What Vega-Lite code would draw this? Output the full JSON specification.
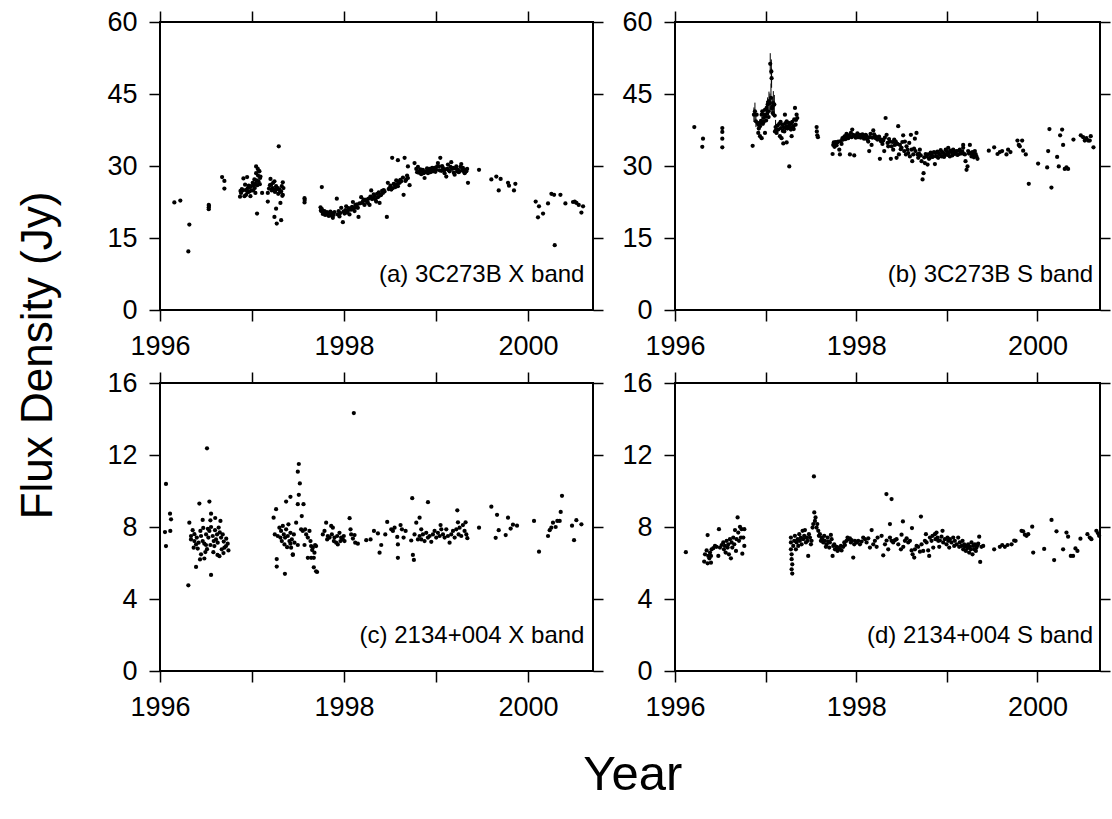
{
"$schema": "https://vega.github.io/schema/vega-lite/v6.json",
"background": "white",
"padding": {"left": 16, "top": 7, "right": 0, "bottom": 0},
"config": {
 "font": "Liberation Sans",
 "view": {"stroke": "#000", "strokeWidth": 2},
 "axis": {"domain": false, "grid": false, "tickColor": "#000", "tickWidth": 1.5, "tickSize": 11, "labelFont": "Liberation Sans", "labelFontSize": 27, "labelColor": "#000", "labelPadding": 12, "labelFlush": false, "labelOverlap": false, "title": null},
 "title": {"font": "Liberation Sans", "fontWeight": "normal", "color": "#000", "anchor": "middle"}
},
"datasets": {
"a": [
{"t":1996.156,"f":22.4},{"t":1996.221,"f":22.8},{"t":1996.319,"f":17.8},{"t":1996.308,"f":12.2},{"t":1996.530,"f":21.9},{"t":1996.530,"f":21.4},{"t":1996.530,"f":21.0},{"t":1996.532,"f":21.7},{"t":1996.675,"f":27.7},{"t":1996.700,"f":26.9},{"t":1996.700,"f":25.3},
{"t":1996.870,"f":23.6},{"t":1996.875,"f":24.8},{"t":1996.881,"f":24.4},{"t":1996.890,"f":25.2},{"t":1996.900,"f":24.9},{"t":1996.907,"f":27.4},{"t":1996.918,"f":23.7},{"t":1996.925,"f":26.1},{"t":1996.930,"f":25.0},{"t":1996.936,"f":24.0},{"t":1996.947,"f":27.7},{"t":1996.950,"f":24.6},{"t":1996.954,"f":25.4},{"t":1996.961,"f":24.6},{"t":1996.965,"f":25.9},{"t":1996.972,"f":24.7},{"t":1996.978,"f":25.6},{"t":1996.983,"f":23.7},{"t":1996.990,"f":25.8},{"t":1996.995,"f":24.9},{"t":1997.008,"f":26.5},{"t":1997.012,"f":24.9},{"t":1997.018,"f":25.9},{"t":1997.026,"f":27.2},{"t":1997.030,"f":25.4},{"t":1997.037,"f":24.4},{"t":1997.040,"f":26.3},{"t":1997.045,"f":28.5},{"t":1997.045,"f":29.9},{"t":1997.050,"f":27.0},{"t":1997.055,"f":20.1},{"t":1997.058,"f":26.0},{"t":1997.063,"f":29.4},{"t":1997.066,"f":28.0},{"t":1997.070,"f":26.8},{"t":1997.075,"f":29.0},{"t":1997.081,"f":28.9},{"t":1997.085,"f":26.2},{"t":1997.088,"f":27.5},{"t":1997.092,"f":27.8},{"t":1997.110,"f":24.4},{"t":1997.172,"f":24.4},{"t":1997.172,"f":22.6},{"t":1997.185,"f":25.3},{"t":1997.195,"f":26.0},{"t":1997.201,"f":27.3},{"t":1997.208,"f":26.1},{"t":1997.215,"f":24.9},{"t":1997.226,"f":25.4},{"t":1997.230,"f":26.5},{"t":1997.237,"f":25.1},{"t":1997.244,"f":26.8},{"t":1997.250,"f":24.6},{"t":1997.255,"f":24.9},{"t":1997.262,"f":25.8},{"t":1997.262,"f":21.1},{"t":1997.244,"f":19.4},{"t":1997.269,"f":18.0},{"t":1997.272,"f":25.2},{"t":1997.280,"f":25.4},{"t":1997.285,"f":24.2},{"t":1997.291,"f":34.1},{"t":1997.298,"f":25.1},{"t":1997.305,"f":24.6},{"t":1997.309,"f":22.3},{"t":1997.317,"f":18.7},{"t":1997.317,"f":24.7},{"t":1997.324,"f":25.8},{"t":1997.330,"f":23.8},{"t":1997.335,"f":26.6},{"t":1997.335,"f":24.0},{"t":1997.342,"f":25.4},
{"t":1997.571,"f":23.3},{"t":1997.571,"f":22.4},{"t":1997.573,"f":22.9},{"t":1997.759,"f":25.6},
{"t":1997.745,"f":21.4},{"t":1997.750,"f":20.8},{"t":1997.752,"f":20.6},{"t":1997.760,"f":21.0},{"t":1997.770,"f":20.0},{"t":1997.775,"f":20.5},{"t":1997.788,"f":20.6},{"t":1997.795,"f":19.8},{"t":1997.806,"f":19.9},{"t":1997.815,"f":20.4},{"t":1997.824,"f":20.2},{"t":1997.835,"f":19.6},{"t":1997.843,"f":20.0},{"t":1997.852,"f":20.5},{"t":1997.861,"f":19.7},{"t":1997.870,"f":20.2},{"t":1997.879,"f":19.2},{"t":1997.888,"f":19.8},{"t":1997.897,"f":20.4},{"t":1997.922,"f":23.2},{"t":1997.933,"f":19.9},{"t":1997.942,"f":20.6},{"t":1997.951,"f":19.5},{"t":1997.960,"f":20.2},{"t":1997.970,"f":21.3},{"t":1997.988,"f":18.3},{"t":1997.995,"f":20.5},{"t":1998.006,"f":20.1},{"t":1998.015,"f":20.8},{"t":1998.024,"f":21.6},{"t":1998.033,"f":20.3},{"t":1998.042,"f":20.6},{"t":1998.051,"f":21.2},{"t":1998.060,"f":19.9},{"t":1998.069,"f":21.0},{"t":1998.078,"f":20.9},{"t":1998.088,"f":21.5},{"t":1998.097,"f":22.5},{"t":1998.106,"f":21.2},{"t":1998.115,"f":20.6},{"t":1998.124,"f":21.9},{"t":1998.133,"f":21.4},{"t":1998.142,"f":22.0},{"t":1998.151,"f":21.3},{"t":1998.158,"f":19.4},{"t":1998.170,"f":22.2},{"t":1998.187,"f":23.5},{"t":1998.196,"f":22.3},{"t":1998.205,"f":22.6},{"t":1998.214,"f":23.0},{"t":1998.223,"f":21.9},{"t":1998.232,"f":22.8},{"t":1998.242,"f":23.0},{"t":1998.251,"f":22.6},{"t":1998.260,"f":22.3},{"t":1998.269,"f":23.2},{"t":1998.278,"f":21.9},{"t":1998.287,"f":23.6},{"t":1998.296,"f":24.9},{"t":1998.305,"f":23.1},{"t":1998.314,"f":23.3},{"t":1998.323,"f":24.1},{"t":1998.332,"f":23.7},{"t":1998.341,"f":23.0},{"t":1998.350,"f":22.6},{"t":1998.360,"f":24.2},{"t":1998.369,"f":23.5},{"t":1998.378,"f":24.5},{"t":1998.387,"f":22.3},{"t":1998.396,"f":23.9},{"t":1998.405,"f":24.0},{"t":1998.414,"f":24.8},{"t":1998.423,"f":24.4},{"t":1998.432,"f":25.0},{"t":1998.441,"f":24.7},{"t":1998.466,"f":19.4},{"t":1998.477,"f":26.5},{"t":1998.486,"f":25.2},{"t":1998.495,"f":25.4},{"t":1998.505,"f":25.9},{"t":1998.514,"f":25.1},{"t":1998.524,"f":31.7},{"t":1998.532,"f":25.4},{"t":1998.541,"f":26.3},{"t":1998.550,"f":26.1},{"t":1998.559,"f":25.6},{"t":1998.568,"f":27.0},{"t":1998.577,"f":26.2},{"t":1998.586,"f":25.8},{"t":1998.586,"f":31.2},{"t":1998.595,"f":26.8},{"t":1998.604,"f":26.5},{"t":1998.613,"f":27.1},{"t":1998.622,"f":26.8},{"t":1998.641,"f":27.6},{"t":1998.648,"f":24.0},{"t":1998.659,"f":31.7},{"t":1998.668,"f":26.9},{"t":1998.677,"f":27.2},{"t":1998.686,"f":28.0},{"t":1998.695,"f":27.5},{"t":1998.695,"f":29.9},{"t":1998.713,"f":26.0},{"t":1998.767,"f":30.6},
{"t":1998.786,"f":29.4},{"t":1998.795,"f":28.7},{"t":1998.804,"f":29.8},{"t":1998.813,"f":28.6},{"t":1998.822,"f":28.9},{"t":1998.831,"f":29.3},{"t":1998.840,"f":28.3},{"t":1998.849,"f":29.0},{"t":1998.858,"f":29.2},{"t":1998.867,"f":28.5},{"t":1998.876,"f":27.5},{"t":1998.885,"f":28.8},{"t":1998.894,"f":28.9},{"t":1998.903,"f":29.5},{"t":1998.913,"f":28.5},{"t":1998.922,"f":29.1},{"t":1998.931,"f":29.4},{"t":1998.940,"f":28.7},{"t":1998.949,"f":29.0},{"t":1998.958,"f":29.6},{"t":1998.967,"f":28.9},{"t":1998.976,"f":29.3},{"t":1998.985,"f":29.6},{"t":1998.994,"f":28.8},{"t":1999.003,"f":29.2},{"t":1999.012,"f":29.9},{"t":1999.021,"f":30.6},{"t":1999.032,"f":29.9},{"t":1999.040,"f":29.1},{"t":1999.047,"f":31.7},{"t":1999.058,"f":29.0},{"t":1999.067,"f":30.0},{"t":1999.076,"f":29.6},{"t":1999.085,"f":29.0},{"t":1999.094,"f":28.5},{"t":1999.103,"f":29.3},{"t":1999.112,"f":27.8},{"t":1999.123,"f":29.4},{"t":1999.130,"f":30.3},{"t":1999.139,"f":29.1},{"t":1999.148,"f":28.9},{"t":1999.157,"f":29.8},{"t":1999.166,"f":30.8},{"t":1999.175,"f":29.4},{"t":1999.185,"f":29.6},{"t":1999.194,"f":28.6},{"t":1999.203,"f":28.2},{"t":1999.212,"f":29.5},{"t":1999.221,"f":29.9},{"t":1999.230,"f":28.9},{"t":1999.239,"f":29.2},{"t":1999.248,"f":28.7},{"t":1999.257,"f":28.9},{"t":1999.266,"f":29.8},{"t":1999.275,"f":30.4},{"t":1999.284,"f":29.1},{"t":1999.293,"f":29.6},{"t":1999.302,"f":28.9},{"t":1999.312,"f":28.5},{"t":1999.321,"f":29.2},{"t":1999.330,"f":28.9},{"t":1999.339,"f":29.4},{"t":1999.348,"f":26.5},
{"t":1999.468,"f":29.2},{"t":1999.602,"f":27.2},{"t":1999.656,"f":27.8},{"t":1999.682,"f":24.9},{"t":1999.703,"f":27.3},{"t":1999.783,"f":26.5},{"t":1999.794,"f":25.9},{"t":1999.848,"f":24.9},{"t":1999.863,"f":26.3},{"t":2000.084,"f":22.6},{"t":2000.109,"f":19.3},{"t":2000.120,"f":21.6},{"t":2000.164,"f":20.1},{"t":2000.218,"f":22.2},{"t":2000.255,"f":24.2},{"t":2000.284,"f":24.0},{"t":2000.291,"f":13.5},{"t":2000.353,"f":24.0},{"t":2000.407,"f":22.2},{"t":2000.490,"f":22.5},{"t":2000.508,"f":22.6},{"t":2000.527,"f":22.3},{"t":2000.552,"f":21.9},{"t":2000.581,"f":20.3},{"t":2000.599,"f":21.6}
],
"b": [
{"t":1996.213,"f":38.1},{"t":1996.309,"f":35.7},{"t":1996.301,"f":34.0},{"t":1996.522,"f":37.9},{"t":1996.522,"f":37.1},{"t":1996.522,"f":35.7},{"t":1996.522,"f":33.9},{"t":1996.857,"f":34.2},
{"t":1996.871,"f":40.7,"lo":39.2,"hi":42.2},{"t":1996.882,"f":41.4,"lo":39.6,"hi":43.2},{"t":1996.893,"f":39.3,"lo":38.1,"hi":40.5},{"t":1996.901,"f":40.7},{"t":1996.912,"f":39.0},{"t":1996.919,"f":38.6},{"t":1996.919,"f":36.9},{"t":1996.925,"f":37.8},{"t":1996.938,"f":38.3},{"t":1996.938,"f":36.2},{"t":1996.945,"f":39.0},{"t":1996.949,"f":39.4},{"t":1996.956,"f":40.7},{"t":1996.956,"f":35.8},{"t":1996.963,"f":41.4},{"t":1996.970,"f":38.8},{"t":1996.974,"f":40.0},{"t":1996.980,"f":39.2},{"t":1996.985,"f":40.7},{"t":1996.993,"f":41.7},{"t":1996.993,"f":36.9},{"t":1997.000,"f":40.3},{"t":1997.005,"f":39.5},{"t":1997.011,"f":42.1,"lo":40.6,"hi":43.6},{"t":1997.018,"f":40.9},{"t":1997.022,"f":42.8,"lo":41.3,"hi":44.3},{"t":1997.029,"f":41.4},{"t":1997.033,"f":40.2},{"t":1997.037,"f":43.5,"lo":41.5,"hi":45.5},{"t":1997.048,"f":43.1,"lo":41.1,"hi":45.1},{"t":1997.051,"f":51.3,"lo":49.1,"hi":53.5},{"t":1997.059,"f":44.2,"lo":41.2,"hi":47.2},{"t":1997.063,"f":49.7,"lo":47.2,"hi":52.2},{"t":1997.066,"f":48.3,"lo":46.3,"hi":50.3},{"t":1997.070,"f":42.0},{"t":1997.074,"f":42.4,"lo":40.4,"hi":44.4},{"t":1997.080,"f":41.0},{"t":1997.085,"f":43.1,"lo":40.6,"hi":45.6},{"t":1997.096,"f":42.8,"lo":40.8,"hi":44.8},{"t":1997.100,"f":40.5},{"t":1997.103,"f":37.2},{"t":1997.110,"f":38.1,"lo":36.6,"hi":39.6},{"t":1997.115,"f":37.5},{"t":1997.121,"f":36.9},{"t":1997.130,"f":38.4},{"t":1997.140,"f":37.6},{"t":1997.150,"f":38.8},{"t":1997.158,"f":36.2},{"t":1997.165,"f":39.2},{"t":1997.169,"f":37.9},{"t":1997.176,"f":35.8},{"t":1997.184,"f":38.6},{"t":1997.190,"f":37.3},{"t":1997.195,"f":34.7},{"t":1997.200,"f":38.1},{"t":1997.206,"f":37.2},{"t":1997.213,"f":40.7},{"t":1997.217,"f":38.9},{"t":1997.221,"f":37.9},{"t":1997.228,"f":38.2},{"t":1997.232,"f":34.9},{"t":1997.232,"f":39.3},{"t":1997.240,"f":37.8},{"t":1997.250,"f":38.3},{"t":1997.255,"f":39.0},{"t":1997.261,"f":29.9},{"t":1997.268,"f":38.6},{"t":1997.272,"f":37.9},{"t":1997.279,"f":37.6},{"t":1997.283,"f":38.9},{"t":1997.287,"f":36.2},{"t":1997.294,"f":39.2},{"t":1997.300,"f":38.0},{"t":1997.305,"f":38.3},{"t":1997.310,"f":37.7},{"t":1997.316,"f":39.7},{"t":1997.324,"f":42.1},{"t":1997.331,"f":38.6},{"t":1997.335,"f":39.6},{"t":1997.342,"f":40.7},{"t":1997.349,"f":40.0},
{"t":1997.563,"f":38.1},{"t":1997.565,"f":37.2},{"t":1997.570,"f":36.4},{"t":1997.577,"f":36.0},
{"t":1997.739,"f":32.5},{"t":1997.746,"f":34.4},{"t":1997.752,"f":34.9},{"t":1997.760,"f":34.0},{"t":1997.765,"f":34.8},{"t":1997.772,"f":35.0},{"t":1997.783,"f":34.3},{"t":1997.790,"f":34.9},{"t":1997.801,"f":35.1},{"t":1997.813,"f":33.4},{"t":1997.820,"f":32.4},{"t":1997.830,"f":35.2},{"t":1997.838,"f":34.6},{"t":1997.848,"f":35.8},{"t":1997.857,"f":35.5},{"t":1997.866,"f":36.0},{"t":1997.875,"f":36.2},{"t":1997.884,"f":35.6},{"t":1997.893,"f":36.7},{"t":1997.902,"f":36.0},{"t":1997.912,"f":35.8},{"t":1997.920,"f":36.4},{"t":1997.930,"f":32.4},{"t":1997.941,"f":36.9},{"t":1997.950,"f":36.0},{"t":1997.956,"f":37.6},{"t":1997.967,"f":36.5},{"t":1997.978,"f":32.2},{"t":1997.985,"f":36.2},{"t":1997.995,"f":35.9},{"t":1998.004,"f":36.4},{"t":1998.013,"f":36.8},{"t":1998.022,"f":36.0},{"t":1998.031,"f":36.3},{"t":1998.040,"f":36.5},{"t":1998.050,"f":35.9},{"t":1998.059,"f":36.2},{"t":1998.068,"f":36.6},{"t":1998.077,"f":36.4},{"t":1998.086,"f":35.7},{"t":1998.096,"f":35.8},{"t":1998.105,"f":36.5},{"t":1998.114,"f":36.2},{"t":1998.123,"f":35.5},{"t":1998.132,"f":35.1},{"t":1998.143,"f":33.1},{"t":1998.150,"f":36.0},{"t":1998.158,"f":36.7},{"t":1998.169,"f":34.4},{"t":1998.178,"f":35.9},{"t":1998.188,"f":37.4},{"t":1998.197,"f":36.6},{"t":1998.206,"f":36.2},{"t":1998.215,"f":35.8},{"t":1998.224,"f":36.0},{"t":1998.233,"f":35.5},{"t":1998.243,"f":35.8},{"t":1998.252,"f":36.1},{"t":1998.261,"f":31.5},{"t":1998.270,"f":35.2},{"t":1998.279,"f":35.5},{"t":1998.289,"f":34.6},{"t":1998.298,"f":35.3},{"t":1998.309,"f":33.1},{"t":1998.316,"f":35.9},{"t":1998.324,"f":40.0},{"t":1998.335,"f":36.5},{"t":1998.346,"f":34.8},{"t":1998.353,"f":34.1},{"t":1998.362,"f":35.6},{"t":1998.371,"f":35.1},{"t":1998.382,"f":31.5},{"t":1998.390,"f":34.1},{"t":1998.399,"f":35.0},{"t":1998.408,"f":33.4},{"t":1998.419,"f":35.5},{"t":1998.426,"f":34.4},{"t":1998.436,"f":35.1},{"t":1998.445,"f":31.7},{"t":1998.454,"f":34.6},{"t":1998.463,"f":38.3},{"t":1998.471,"f":32.4},{"t":1998.482,"f":34.4},{"t":1998.491,"f":33.5},{"t":1998.500,"f":33.8},{"t":1998.509,"f":35.0},{"t":1998.518,"f":36.4},{"t":1998.529,"f":33.1},{"t":1998.537,"f":35.1},{"t":1998.548,"f":32.4},{"t":1998.555,"f":34.1},{"t":1998.566,"f":33.4},{"t":1998.574,"f":32.7},{"t":1998.585,"f":34.8},{"t":1998.592,"f":32.0},{"t":1998.603,"f":36.5},{"t":1998.610,"f":33.4},{"t":1998.618,"f":31.0},{"t":1998.629,"f":32.4},{"t":1998.638,"f":33.6},{"t":1998.647,"f":35.7},{"t":1998.654,"f":33.1},{"t":1998.665,"f":36.9},{"t":1998.676,"f":32.4},{"t":1998.684,"f":31.7},{"t":1998.693,"f":32.6},{"t":1998.702,"f":33.4},{"t":1998.712,"f":32.2},{"t":1998.721,"f":31.0},{"t":1998.732,"f":27.2},{"t":1998.743,"f":28.5},{"t":1998.750,"f":31.8},{"t":1998.757,"f":30.6},{"t":1998.766,"f":32.5},{"t":1998.776,"f":32.0},{"t":1998.787,"f":30.3},{"t":1998.794,"f":32.4},{"t":1998.803,"f":31.5},{"t":1998.813,"f":31.7},{"t":1998.822,"f":32.8},{"t":1998.831,"f":32.4},{"t":1998.840,"f":31.9},{"t":1998.849,"f":32.0},{"t":1998.858,"f":32.9},{"t":1998.868,"f":30.4},{"t":1998.875,"f":32.7},{"t":1998.886,"f":32.0},{"t":1998.895,"f":33.0},{"t":1998.904,"f":31.7},{"t":1998.913,"f":32.6},{"t":1998.923,"f":32.4},{"t":1998.932,"f":33.3},{"t":1998.941,"f":32.0},{"t":1998.950,"f":32.9},{"t":1998.960,"f":32.7},{"t":1998.969,"f":31.9},{"t":1998.978,"f":32.4},{"t":1998.987,"f":33.4},{"t":1998.996,"f":33.1},{"t":1999.005,"f":32.3},{"t":1999.015,"f":32.5},{"t":1999.015,"f":33.8},{"t":1999.024,"f":32.9},{"t":1999.033,"f":32.0},{"t":1999.042,"f":33.2},{"t":1999.051,"f":32.9},{"t":1999.060,"f":32.2},{"t":1999.070,"f":33.4},{"t":1999.079,"f":32.8},{"t":1999.088,"f":32.5},{"t":1999.097,"f":33.0},{"t":1999.107,"f":33.1},{"t":1999.116,"f":32.3},{"t":1999.125,"f":32.4},{"t":1999.134,"f":33.2},{"t":1999.143,"f":33.4},{"t":1999.152,"f":32.6},{"t":1999.162,"f":32.7},{"t":1999.171,"f":33.0},{"t":1999.180,"f":33.8},{"t":1999.180,"f":34.4},{"t":1999.189,"f":32.5},{"t":1999.199,"f":32.4},{"t":1999.206,"f":31.0},{"t":1999.217,"f":29.2},{"t":1999.228,"f":29.9},{"t":1999.235,"f":33.1},{"t":1999.244,"f":32.6},{"t":1999.254,"f":34.4},{"t":1999.265,"f":32.7},{"t":1999.272,"f":32.0},{"t":1999.281,"f":32.9},{"t":1999.290,"f":32.4},{"t":1999.299,"f":31.8},{"t":1999.309,"f":33.1},{"t":1999.318,"f":32.5},{"t":1999.327,"f":32.0},{"t":1999.338,"f":31.5},
{"t":1999.463,"f":33.2},{"t":1999.522,"f":33.9},{"t":1999.559,"f":32.5},{"t":1999.585,"f":32.9},{"t":1999.610,"f":33.1},{"t":1999.658,"f":32.4},{"t":1999.676,"f":33.4},{"t":1999.702,"f":32.9},{"t":1999.779,"f":35.3},{"t":1999.794,"f":34.4},{"t":1999.805,"f":34.1},{"t":1999.831,"f":35.3},{"t":1999.842,"f":33.2},{"t":1999.871,"f":32.4},{"t":1999.904,"f":26.3},{"t":2000.007,"f":30.5},{"t":2000.107,"f":29.7},{"t":2000.118,"f":33.1},{"t":2000.132,"f":37.7},{"t":2000.154,"f":25.5},{"t":2000.217,"f":31.9},{"t":2000.235,"f":29.9},{"t":2000.250,"f":36.4},{"t":2000.272,"f":37.6},{"t":2000.283,"f":34.4},{"t":2000.301,"f":29.4},{"t":2000.320,"f":29.7},{"t":2000.338,"f":29.4},{"t":2000.397,"f":35.5},{"t":2000.478,"f":36.4},{"t":2000.504,"f":36.0},{"t":2000.522,"f":35.3},{"t":2000.540,"f":35.8},{"t":2000.559,"f":35.3},{"t":2000.577,"f":35.3},{"t":2000.588,"f":36.2},{"t":2000.618,"f":33.9}
],
"c": [
{"t":1996.065,"f":10.39},{"t":1996.054,"f":7.72},{"t":1996.065,"f":6.94},{"t":1996.109,"f":8.74},{"t":1996.120,"f":8.43},{"t":1996.112,"f":7.78},
{"t":1996.308,"f":4.76},{"t":1996.319,"f":8.24},{"t":1996.428,"f":9.30},{"t":1996.511,"f":12.37},{"t":1996.537,"f":9.41},{"t":1996.555,"f":8.74},{"t":1996.548,"f":8.37},{"t":1996.464,"f":8.39},{"t":1996.355,"f":7.82},{"t":1996.374,"f":7.60},{"t":1996.337,"f":7.50},{"t":1996.337,"f":7.31},{"t":1996.374,"f":7.22},{"t":1996.392,"f":7.03},{"t":1996.366,"f":6.85},{"t":1996.392,"f":5.78},{"t":1996.555,"f":5.34},{"t":1996.439,"f":7.78},{"t":1996.446,"f":7.50},{"t":1996.464,"f":7.22},{"t":1996.482,"f":7.07},{"t":1996.501,"f":7.59},{"t":1996.511,"f":6.77},{"t":1996.526,"f":7.41},{"t":1996.537,"f":7.78},{"t":1996.548,"f":7.00},{"t":1996.555,"f":8.00},{"t":1996.573,"f":7.50},{"t":1996.584,"f":7.22},{"t":1996.591,"f":6.94},{"t":1996.598,"f":7.82},{"t":1996.609,"f":7.31},{"t":1996.620,"f":7.59},{"t":1996.627,"f":7.13},{"t":1996.638,"f":7.97},{"t":1996.646,"f":6.38},{"t":1996.657,"f":8.34},{"t":1996.664,"f":7.41},{"t":1996.671,"f":6.76},{"t":1996.682,"f":7.59},{"t":1996.693,"f":7.19},{"t":1996.700,"f":6.85},{"t":1996.718,"f":6.94},{"t":1996.736,"f":7.07},{"t":1996.744,"f":6.70},{"t":1996.446,"f":6.48},{"t":1996.482,"f":6.25},{"t":1996.435,"f":6.20},{"t":1996.493,"f":6.61},{"t":1996.400,"f":7.41},{"t":1996.420,"f":7.13},{"t":1996.600,"f":8.50},{"t":1996.625,"f":6.45},{"t":1996.410,"f":6.80},{"t":1996.520,"f":7.90},{"t":1996.580,"f":6.60},{"t":1996.650,"f":7.70},{"t":1996.720,"f":7.35},{"t":1996.690,"f":6.55},{"t":1996.470,"f":7.95},{"t":1996.500,"f":7.00},
{"t":1997.235,"f":8.52},{"t":1997.262,"f":8.99},{"t":1997.269,"f":6.22},{"t":1997.269,"f":5.80},{"t":1997.358,"f":5.40},{"t":1997.371,"f":9.41},{"t":1997.418,"f":9.68},{"t":1997.509,"f":11.50},{"t":1997.498,"f":11.07},{"t":1997.520,"f":10.42},{"t":1997.509,"f":9.79},{"t":1997.498,"f":9.27},{"t":1997.560,"f":9.27},{"t":1997.541,"f":8.61},
{"t":1997.248,"f":7.59},{"t":1997.280,"f":7.50},{"t":1997.298,"f":7.96},{"t":1997.309,"f":7.41},{"t":1997.316,"f":7.78},{"t":1997.324,"f":7.22},{"t":1997.335,"f":8.06},{"t":1997.346,"f":7.59},{"t":1997.353,"f":7.03},{"t":1997.360,"f":7.41},{"t":1997.371,"f":7.87},{"t":1997.382,"f":6.88},{"t":1997.389,"f":7.50},{"t":1997.396,"f":8.15},{"t":1997.407,"f":7.22},{"t":1997.418,"f":7.68},{"t":1997.425,"f":6.85},{"t":1997.433,"f":7.31},{"t":1997.444,"f":6.48},{"t":1997.455,"f":7.59},{"t":1997.462,"f":7.13},{"t":1997.480,"f":8.24},{"t":1997.498,"f":7.00},{"t":1997.534,"f":7.87},{"t":1997.552,"f":7.78},{"t":1997.571,"f":7.00},{"t":1997.578,"f":7.87},{"t":1997.589,"f":7.59},{"t":1997.607,"f":7.41},{"t":1997.625,"f":7.78},{"t":1997.636,"f":7.22},{"t":1997.643,"f":6.94},{"t":1997.654,"f":6.72},{"t":1997.661,"f":6.85},{"t":1997.672,"f":6.29},{"t":1997.679,"f":6.57},{"t":1997.686,"f":7.00},{"t":1997.697,"f":6.94},{"t":1997.672,"f":5.76},{"t":1997.697,"f":5.54},{"t":1997.708,"f":5.50},{"t":1997.607,"f":6.29},{"t":1997.643,"f":6.29},{"t":1997.444,"f":6.45},{"t":1997.418,"f":7.07},
{"t":1997.770,"f":7.59},{"t":1997.788,"f":7.78},{"t":1997.806,"f":8.24},{"t":1997.817,"f":7.31},{"t":1997.824,"f":7.50},{"t":1997.843,"f":7.41},{"t":1997.861,"f":8.06},{"t":1997.868,"f":7.59},{"t":1997.879,"f":7.96},{"t":1997.890,"f":7.22},{"t":1997.897,"f":7.41},{"t":1997.915,"f":7.13},{"t":1997.926,"f":7.50},{"t":1997.933,"f":7.03},{"t":1997.951,"f":7.68},{"t":1997.962,"f":7.22},{"t":1997.969,"f":7.41},{"t":1997.988,"f":7.31},{"t":1997.998,"f":7.50},{"t":1998.006,"f":7.22},{"t":1998.061,"f":8.49},{"t":1998.071,"f":7.87},{"t":1998.078,"f":7.59},{"t":1998.097,"f":7.36},{"t":1998.107,"f":14.33},{"t":1998.115,"f":7.55},{"t":1998.122,"f":7.13},{"t":1998.151,"f":7.07},{"t":1998.242,"f":7.27},{"t":1998.289,"f":7.31},{"t":1998.326,"f":7.78},
{"t":1998.369,"f":7.64},{"t":1998.387,"f":6.57},{"t":1998.405,"f":7.00},{"t":1998.449,"f":7.59},{"t":1998.470,"f":8.28},{"t":1998.514,"f":7.87},{"t":1998.532,"f":7.78},{"t":1998.550,"f":7.96},{"t":1998.579,"f":7.45},{"t":1998.586,"f":7.03},{"t":1998.586,"f":6.29},{"t":1998.615,"f":8.11},{"t":1998.630,"f":7.87},{"t":1998.648,"f":7.41},{"t":1998.670,"f":7.78},{"t":1998.731,"f":7.25},{"t":1998.742,"f":9.60},{"t":1998.749,"f":6.45},{"t":1998.760,"f":6.17},{"t":1998.767,"f":7.59},{"t":1998.786,"f":8.24},{"t":1998.822,"f":8.52},{"t":1998.804,"f":7.31},{"t":1998.840,"f":7.87},{"t":1998.913,"f":9.38},
{"t":1998.822,"f":7.50},{"t":1998.840,"f":7.31},{"t":1998.858,"f":7.59},{"t":1998.876,"f":7.22},{"t":1998.894,"f":7.68},{"t":1998.913,"f":7.41},{"t":1998.931,"f":7.50},{"t":1998.949,"f":7.18},{"t":1998.967,"f":7.59},{"t":1998.985,"f":7.78},{"t":1999.003,"f":7.41},{"t":1999.021,"f":7.68},{"t":1999.040,"f":7.50},{"t":1999.050,"f":8.11},{"t":1999.058,"f":7.87},{"t":1999.076,"f":7.59},{"t":1999.094,"f":7.41},{"t":1999.112,"f":7.87},{"t":1999.130,"f":7.50},{"t":1999.148,"f":7.13},{"t":1999.166,"f":7.59},{"t":1999.185,"f":7.78},{"t":1999.203,"f":7.41},{"t":1999.221,"f":7.87},{"t":1999.232,"f":8.93},{"t":1999.239,"f":8.26},{"t":1999.246,"f":7.59},{"t":1999.257,"f":7.96},{"t":1999.275,"f":7.50},{"t":1999.293,"f":8.11},{"t":1999.311,"f":7.78},{"t":1999.322,"f":8.26},{"t":1999.330,"f":7.59},{"t":1999.341,"f":7.38},
{"t":1999.468,"f":7.96},{"t":1999.602,"f":9.13},{"t":1999.664,"f":8.68},{"t":1999.649,"f":7.40},{"t":1999.682,"f":7.82},{"t":1999.758,"f":7.55},{"t":1999.783,"f":8.52},{"t":1999.812,"f":7.91},{"t":1999.837,"f":8.13},{"t":1999.881,"f":8.07},{"t":2000.066,"f":8.34},{"t":2000.120,"f":6.63},{"t":2000.218,"f":7.50},{"t":2000.236,"f":7.82},{"t":2000.254,"f":7.96},{"t":2000.272,"f":8.24},{"t":2000.301,"f":8.00},{"t":2000.319,"f":8.34},{"t":2000.345,"f":8.34},{"t":2000.356,"f":8.84},{"t":2000.370,"f":9.73},{"t":2000.479,"f":8.07},{"t":2000.501,"f":7.27},{"t":2000.526,"f":8.38},{"t":2000.581,"f":8.15}
],
"d": [
{"t":1996.120,"f":6.60},
{"t":1996.322,"f":6.08},{"t":1996.360,"f":5.98},{"t":1996.397,"f":6.02},{"t":1996.331,"f":6.48},{"t":1996.360,"f":7.55},{"t":1996.349,"f":6.70},{"t":1996.367,"f":6.39},{"t":1996.379,"f":6.26},{"t":1996.386,"f":6.58},{"t":1996.397,"f":6.39},{"t":1996.404,"f":6.76},{"t":1996.423,"f":6.82},{"t":1996.441,"f":6.95},{"t":1996.459,"f":6.90},{"t":1996.478,"f":6.39},{"t":1996.485,"f":7.88},{"t":1996.496,"f":6.86},{"t":1996.515,"f":7.00},{"t":1996.533,"f":7.14},{"t":1996.540,"f":6.76},{"t":1996.551,"f":6.95},{"t":1996.559,"f":6.58},{"t":1996.570,"f":7.23},{"t":1996.581,"f":6.86},{"t":1996.588,"f":7.04},{"t":1996.595,"f":6.48},{"t":1996.606,"f":7.32},{"t":1996.617,"f":6.26},{"t":1996.625,"f":7.14},{"t":1996.632,"f":6.86},{"t":1996.643,"f":7.41},{"t":1996.654,"f":7.04},{"t":1996.662,"f":7.83},{"t":1996.673,"f":6.67},{"t":1996.680,"f":7.32},{"t":1996.691,"f":8.53},{"t":1996.698,"f":7.69},{"t":1996.706,"f":7.23},{"t":1996.717,"f":8.01},{"t":1996.728,"f":7.41},{"t":1996.735,"f":7.88},{"t":1996.743,"f":6.52},{"t":1996.754,"f":7.41},{"t":1996.765,"f":7.88},{"t":1996.765,"f":6.95},
{"t":1997.279,"f":7.41},{"t":1997.279,"f":7.14},{"t":1997.279,"f":6.76},{"t":1997.287,"f":6.48},{"t":1997.287,"f":6.21},{"t":1997.294,"f":5.93},{"t":1997.294,"f":5.41},{"t":1997.287,"f":5.65},{"t":1997.305,"f":6.95},{"t":1997.316,"f":7.23},{"t":1997.323,"f":7.51},{"t":1997.334,"f":6.76},{"t":1997.342,"f":7.14},{"t":1997.353,"f":7.32},{"t":1997.360,"f":6.95},{"t":1997.371,"f":7.60},{"t":1997.378,"f":7.23},{"t":1997.389,"f":7.41},{"t":1997.397,"f":7.04},{"t":1997.408,"f":7.79},{"t":1997.415,"f":7.32},{"t":1997.426,"f":7.51},{"t":1997.434,"f":7.83},{"t":1997.445,"f":7.14},{"t":1997.452,"f":7.41},{"t":1997.463,"f":7.23},{"t":1997.470,"f":6.39},{"t":1997.478,"f":7.60},{"t":1997.489,"f":7.41},{"t":1997.500,"f":7.04},{"t":1997.507,"f":7.23},{"t":1997.518,"f":7.97},{"t":1997.526,"f":8.16},{"t":1997.533,"f":10.81},{"t":1997.537,"f":8.81},{"t":1997.544,"f":8.34},{"t":1997.551,"f":8.53},{"t":1997.562,"f":7.97},{"t":1997.570,"f":8.16},{"t":1997.581,"f":7.79},{"t":1997.588,"f":7.51},{"t":1997.599,"f":7.60},{"t":1997.610,"f":7.23},{"t":1997.617,"f":7.41},{"t":1997.628,"f":7.32},{"t":1997.636,"f":7.14},{"t":1997.647,"f":7.51},{"t":1997.654,"f":7.23},{"t":1997.665,"f":6.90},{"t":1997.673,"f":7.04},{"t":1997.684,"f":7.41},{"t":1997.691,"f":7.19},{"t":1997.702,"f":6.86},{"t":1997.709,"f":7.14},{"t":1997.720,"f":7.56},{"t":1997.728,"f":7.32},{"t":1997.739,"f":6.39},{"t":1997.746,"f":6.95},{"t":1997.757,"f":7.04},{"t":1997.765,"f":6.76},{"t":1997.783,"f":6.90},{"t":1997.794,"f":6.67},{"t":1997.801,"f":6.86},{"t":1997.820,"f":6.76},{"t":1997.831,"f":6.95},{"t":1997.838,"f":6.70},{"t":1997.857,"f":6.90},{"t":1997.868,"f":7.14},{"t":1997.875,"f":7.00},{"t":1997.893,"f":7.23},{"t":1997.904,"f":7.41},{"t":1997.912,"f":7.32},{"t":1997.930,"f":7.37},{"t":1997.941,"f":7.14},{"t":1997.949,"f":7.27},{"t":1997.967,"f":6.30},{"t":1997.978,"f":7.04},{"t":1997.985,"f":7.23},{"t":1998.004,"f":7.14},{"t":1998.022,"f":7.23},{"t":1998.041,"f":7.04},{"t":1998.059,"f":7.19},{"t":1998.077,"f":7.41},{"t":1998.096,"f":7.32},{"t":1998.114,"f":7.14},{"t":1998.133,"f":7.37},{"t":1998.151,"f":6.86},{"t":1998.170,"f":7.83},{"t":1998.188,"f":7.04},{"t":1998.206,"f":7.23},{"t":1998.225,"f":6.90},{"t":1998.236,"f":7.41},
{"t":1998.333,"f":9.83},{"t":1998.390,"f":9.55},{"t":1998.372,"f":8.16},{"t":1998.515,"f":8.31},{"t":1998.615,"f":7.94},{"t":1998.714,"f":8.58},{"t":1998.280,"f":7.51},{"t":1998.298,"f":6.43},{"t":1998.317,"f":7.04},{"t":1998.335,"f":7.25},{"t":1998.353,"f":6.76},{"t":1998.372,"f":7.41},{"t":1998.390,"f":7.23},{"t":1998.408,"f":7.14},{"t":1998.427,"f":7.27},{"t":1998.445,"f":7.32},{"t":1998.464,"f":7.04},{"t":1998.493,"f":6.76},{"t":1998.500,"f":7.57},{"t":1998.519,"f":6.90},{"t":1998.537,"f":7.23},{"t":1998.556,"f":7.37},{"t":1998.574,"f":7.14},{"t":1998.592,"f":7.23},{"t":1998.611,"f":6.70},{"t":1998.622,"f":6.48},{"t":1998.640,"f":6.30},{"t":1998.648,"f":6.76},{"t":1998.666,"f":6.95},{"t":1998.684,"f":6.90},{"t":1998.703,"f":6.63},{"t":1998.721,"f":7.04},{"t":1998.739,"f":6.67},{"t":1998.758,"f":7.23},{"t":1998.769,"f":7.60},{"t":1998.776,"f":7.14},{"t":1998.794,"f":6.70},{"t":1998.805,"f":6.39},{"t":1998.813,"f":7.41},{"t":1998.831,"f":7.23},{"t":1998.842,"f":7.51},{"t":1998.850,"f":6.86},{"t":1998.868,"f":7.60},{"t":1998.875,"f":7.32},{"t":1998.886,"f":7.69},{"t":1998.897,"f":7.41},{"t":1998.905,"f":7.23},{"t":1998.916,"f":6.90},{"t":1998.923,"f":7.25},{"t":1998.941,"f":7.46},{"t":1998.952,"f":7.79},{"t":1998.960,"f":7.14},{"t":1998.978,"f":7.32},{"t":1998.996,"f":7.04},{"t":1999.007,"f":7.41},{"t":1999.015,"f":7.23},{"t":1999.026,"f":6.86},{"t":1999.033,"f":7.32},{"t":1999.051,"f":7.14},{"t":1999.070,"f":7.41},{"t":1999.081,"f":6.95},{"t":1999.088,"f":7.23},{"t":1999.107,"f":7.04},{"t":1999.125,"f":7.41},{"t":1999.136,"f":6.90},{"t":1999.143,"f":7.14},{"t":1999.162,"f":6.95},{"t":1999.173,"f":7.23},{"t":1999.180,"f":6.76},{"t":1999.191,"f":7.04},{"t":1999.199,"f":6.90},{"t":1999.210,"f":6.67},{"t":1999.217,"f":6.95},{"t":1999.228,"f":6.83},{"t":1999.235,"f":7.04},{"t":1999.246,"f":6.58},{"t":1999.254,"f":6.90},{"t":1999.265,"f":6.76},{"t":1999.272,"f":7.14},{"t":1999.283,"f":6.48},{"t":1999.290,"f":6.95},{"t":1999.301,"f":6.76},{"t":1999.309,"f":7.04},{"t":1999.320,"f":6.67},{"t":1999.327,"f":6.86},{"t":1999.338,"f":6.98},{"t":1999.346,"f":7.08},{"t":1999.357,"f":7.46},{"t":1999.368,"f":6.06},{"t":1999.382,"f":6.90},{"t":1999.401,"f":6.95},
{"t":1999.522,"f":6.76},{"t":1999.585,"f":6.90},{"t":1999.611,"f":7.00},{"t":1999.640,"f":6.90},{"t":1999.670,"f":7.00},{"t":1999.714,"f":7.04},{"t":1999.743,"f":7.25},{"t":1999.758,"f":7.23},{"t":1999.824,"f":7.79},{"t":1999.842,"f":7.76},{"t":1999.861,"f":7.57},{"t":1999.879,"f":7.51},{"t":1999.898,"f":7.60},{"t":1999.942,"f":8.02},{"t":1999.953,"f":6.58},{"t":2000.074,"f":6.78},{"t":2000.155,"f":8.39},{"t":2000.184,"f":6.16},{"t":2000.210,"f":7.76},{"t":2000.283,"f":6.76},{"t":2000.320,"f":7.69},{"t":2000.338,"f":7.46},{"t":2000.368,"f":6.39},{"t":2000.393,"f":6.39},{"t":2000.419,"f":6.81},{"t":2000.441,"f":6.67},{"t":2000.474,"f":7.35},{"t":2000.551,"f":7.60},{"t":2000.577,"f":7.41},{"t":2000.595,"f":7.32},{"t":2000.650,"f":7.79},{"t":2000.669,"f":7.65},{"t":2000.680,"f":7.51}
],
"la": [{"label": "(a) 3C273B X band"}],
"lb": [{"label": "(b) 3C273B S band"}],
"lc": [{"label": "(c) 2134+004 X band"}],
"ld": [{"label": "(d) 2134+004 S band"}]
},
"vconcat": [
{"hconcat": [
 {"width": 433, "height": 288,
  "layer": [
   {"data": {"name": "a"}, "mark": {"type": "circle", "size": 18, "color": "#000", "opacity": 1},
    "encoding": {
     "x": {"field": "t", "type": "quantitative", "scale": {"domain": [1996, 2000.707], "nice": false, "zero": false}, "axis": {"orient": "bottom", "values": [1996,1997,1998,1999,2000], "format": "d", "labelExpr": "datum.value % 2 === 0 ? datum.label : ''"}},
     "y": {"field": "f", "type": "quantitative", "scale": {"domain": [0, 60], "nice": false, "zero": false}, "axis": {"orient": "left", "values": [0,15,30,45,60]}}}},
   {"data": {"name": "a"}, "mark": {"type": "circle", "opacity": 0},
    "encoding": {
     "x": {"field": "t", "type": "quantitative", "axis": {"orient": "top", "values": [1996,1997,1998,1999,2000], "labels": false}},
     "y": {"field": "f", "type": "quantitative", "axis": {"orient": "right", "values": [0,15,30,45,60], "labels": false, "tickSize": 10}}}},
   {"data": {"name": "la"}, "mark": {"type": "text", "align": "right", "baseline": "alphabetic", "fontSize": 24, "color": "#000"},
    "encoding": {"x": {"datum": 2000.614, "type": "quantitative", "axis": null}, "y": {"datum": 5.9, "type": "quantitative", "axis": null}, "text": {"field": "label"}}}
  ],
  "resolve": {"axis": {"x": "independent", "y": "independent"}}},
 {"width": 425, "height": 288,
  "layer": [
   {"data": {"name": "b"}, "transform": [{"filter": "isValid(datum.lo)"}], "mark": {"type": "rule", "color": "#000", "strokeWidth": 1},
    "encoding": {
     "x": {"field": "t", "type": "quantitative", "scale": {"domain": [1996, 2000.69], "nice": false, "zero": false}, "axis": null},
     "y": {"field": "lo", "type": "quantitative", "scale": {"domain": [0, 60], "nice": false, "zero": false}, "axis": null},
     "y2": {"field": "hi"}}},
   {"data": {"name": "b"}, "mark": {"type": "circle", "size": 18, "color": "#000", "opacity": 1},
    "encoding": {
     "x": {"field": "t", "type": "quantitative", "axis": {"orient": "bottom", "values": [1996,1997,1998,1999,2000], "format": "d", "labelExpr": "datum.value % 2 === 0 ? datum.label : ''"}},
     "y": {"field": "f", "type": "quantitative", "axis": {"orient": "left", "values": [0,15,30,45,60]}}}},
   {"data": {"name": "b"}, "mark": {"type": "circle", "opacity": 0},
    "encoding": {
     "x": {"field": "t", "type": "quantitative", "axis": {"orient": "top", "values": [1996,1997,1998,1999,2000], "labels": false}},
     "y": {"field": "f", "type": "quantitative", "axis": {"orient": "right", "values": [0,15,30,45,60], "labels": false, "tickSize": 10}}}},
   {"data": {"name": "lb"}, "mark": {"type": "text", "align": "right", "baseline": "alphabetic", "fontSize": 24, "color": "#000"},
    "encoding": {"x": {"datum": 2000.614, "type": "quantitative", "axis": null}, "y": {"datum": 5.9, "type": "quantitative", "axis": null}, "text": {"field": "label"}}}
  ],
  "resolve": {"axis": {"x": "independent", "y": "independent"}}}
 ], "spacing": 15},
{"hconcat": [
 {"width": 433, "height": 288,
  "layer": [
   {"data": {"name": "c"}, "mark": {"type": "circle", "size": 18, "color": "#000", "opacity": 1},
    "encoding": {
     "x": {"field": "t", "type": "quantitative", "scale": {"domain": [1996, 2000.707], "nice": false, "zero": false}, "axis": {"orient": "bottom", "values": [1996,1997,1998,1999,2000], "format": "d", "labelExpr": "datum.value % 2 === 0 ? datum.label : ''"}},
     "y": {"field": "f", "type": "quantitative", "scale": {"domain": [0, 16], "nice": false, "zero": false}, "axis": {"orient": "left", "values": [0,4,8,12,16]}}}},
   {"data": {"name": "c"}, "mark": {"type": "circle", "opacity": 0},
    "encoding": {
     "x": {"field": "t", "type": "quantitative", "axis": {"orient": "top", "values": [1996,1997,1998,1999,2000], "labels": false}},
     "y": {"field": "f", "type": "quantitative", "axis": {"orient": "right", "values": [0,4,8,12,16], "labels": false, "tickSize": 10}}}},
   {"data": {"name": "lc"}, "mark": {"type": "text", "align": "right", "baseline": "alphabetic", "fontSize": 24, "color": "#000"},
    "encoding": {"x": {"datum": 2000.614, "type": "quantitative", "axis": null}, "y": {"datum": 1.57, "type": "quantitative", "axis": null}, "text": {"field": "label"}}}
  ],
  "resolve": {"axis": {"x": "independent", "y": "independent"}}},
 {"width": 425, "height": 288,
  "layer": [
   {"data": {"name": "d"}, "mark": {"type": "circle", "size": 18, "color": "#000", "opacity": 1},
    "encoding": {
     "x": {"field": "t", "type": "quantitative", "scale": {"domain": [1996, 2000.69], "nice": false, "zero": false}, "axis": {"orient": "bottom", "values": [1996,1997,1998,1999,2000], "format": "d", "labelExpr": "datum.value % 2 === 0 ? datum.label : ''"}},
     "y": {"field": "f", "type": "quantitative", "scale": {"domain": [0, 16], "nice": false, "zero": false}, "axis": {"orient": "left", "values": [0,4,8,12,16]}}}},
   {"data": {"name": "d"}, "mark": {"type": "circle", "opacity": 0},
    "encoding": {
     "x": {"field": "t", "type": "quantitative", "axis": {"orient": "top", "values": [1996,1997,1998,1999,2000], "labels": false}},
     "y": {"field": "f", "type": "quantitative", "axis": {"orient": "right", "values": [0,4,8,12,16], "labels": false, "tickSize": 10}}}},
   {"data": {"name": "ld"}, "mark": {"type": "text", "align": "right", "baseline": "alphabetic", "fontSize": 24, "color": "#000"},
    "encoding": {"x": {"datum": 2000.614, "type": "quantitative", "axis": null}, "y": {"datum": 1.57, "type": "quantitative", "axis": null}, "text": {"field": "label"}}}
  ],
  "resolve": {"axis": {"x": "independent", "y": "independent"}}}
 ], "spacing": 15,
 "title": {"text": "Year", "orient": "bottom", "fontSize": 49, "offset": 30, "dx": 24}}
],
"spacing": 8,
"title": {"text": "Flux Density (Jy)", "orient": "left", "fontSize": 44, "offset": 45, "dx": 48}
}
